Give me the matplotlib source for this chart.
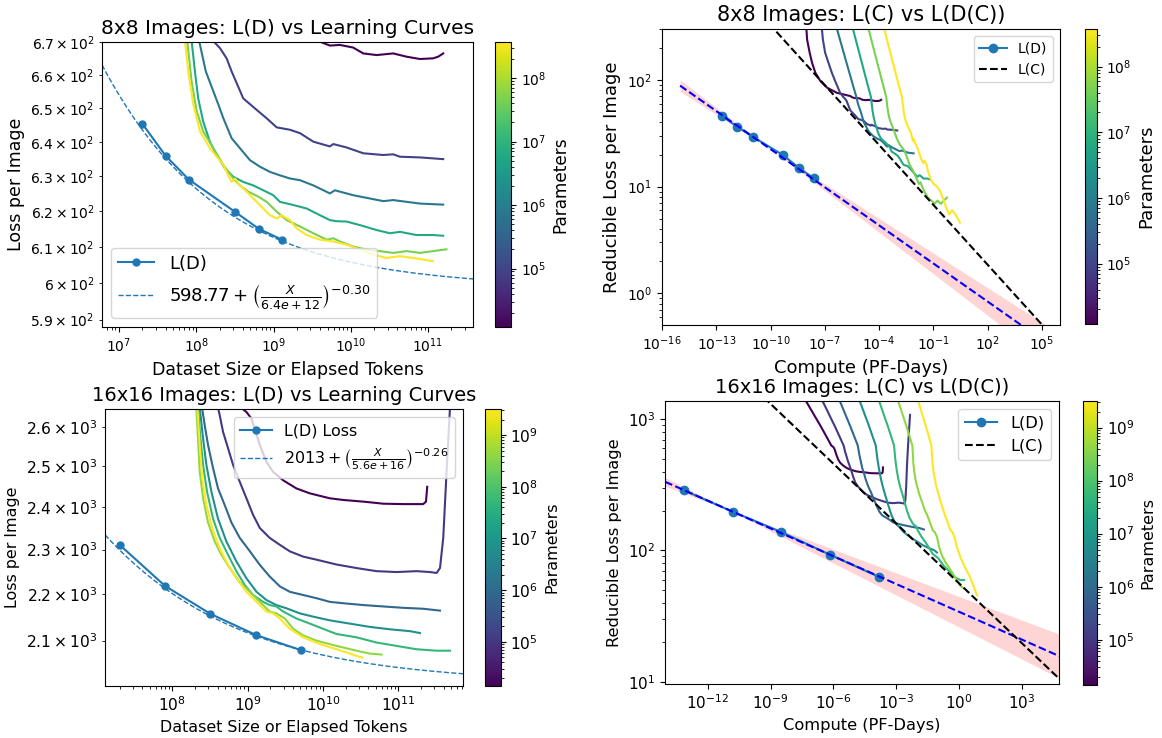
import numpy as np
import matplotlib
matplotlib.use("Agg")
import matplotlib.pyplot as plt
from matplotlib.colors import LogNorm
from matplotlib.cm import ScalarMappable
from matplotlib.ticker import NullLocator

PF_DAY = 8.64e19          # FLOP in one petaflop-day
FLOP_PER_PARAM_TOKEN = 6  # forward + backward

# model sizes of the learning curves
params_8 = [1.2e4, 9.3e4, 7.4e5, 5.9e6, 4.7e7, 3.7e8]
params_16 = [1.4e4, 1.1e5, 8.5e5, 6.6e6, 5.2e7, 4.1e8, 3.2e9]

# 8x8 learning curves (elapsed tokens, loss per image)
tok8_1 = [1.15e7, 1.26e7, 1.75e7, 2.37e7, 3.61e7, 6.82e7, 1.60e8, 5.71e8, 3.10e9, 3.79e9, 5.37e9,
          7.22e9, 1.07e10, 1.45e10, 2.16e10, 3.54e10, 5.27e10, 7.84e10, 1.16e11, 1.35e11, 1.57e11]
loss8_1 = [904, 841, 781, 746, 718, 699, 686, 677, 672, 670.3, 668.9,
           669.1, 668.3, 666.5, 666.0, 666.5, 665.5, 664.8, 665.0, 665.5, 666.5]
tok8_2 = [1.07e7, 1.21e7, 1.62e7, 2.47e7, 3.80e7, 5.79e7, 1.09e8, 1.66e8, 2.03e8, 2.47e8, 2.87e8,
          4.06e8, 6.04e8, 8.14e8, 1.10e9, 1.63e9, 2.20e9, 3.27e9, 5.37e9, 5.92e9, 8.83e9, 1.45e10,
          2.63e10, 3.54e10, 4.32e10, 7.84e10, 1.57e11]
loss8_2 = [904, 841, 781, 746, 718, 699, 677, 670.3, 668.1, 665.0, 661.0,
           652.9, 649.5, 647.0, 644.3, 643.6, 642.6, 640.1, 638.7, 639.4, 638.4, 636.7,
           636.2, 636.4, 635.7, 635.5, 635.0]
tok8_3 = [9.06e6, 1.33e7, 2.16e7, 3.10e7, 4.45e7, 6.00e7, 8.71e7, 1.09e8, 1.33e8, 1.93e8, 2.24e8,
          2.87e8, 3.67e8, 4.95e8, 6.67e8, 8.98e8, 1.21e9, 1.63e9, 2.20e9, 3.27e9, 5.37e9, 6.22e9,
          1.07e10, 2.63e10, 3.54e10, 7.84e10, 1.57e11]
loss8_3 = [904, 841, 781, 746, 718, 699, 680, 670.3, 661.0, 651.1, 647.0,
           641.1, 638.2, 634.7, 632.8, 631.3, 630.3, 629.4, 628.9, 627.4, 625.1, 626.0,
           624.6, 622.9, 623.2, 622.2, 621.9]
tok8_4 = [8.71e6, 1.24e7, 1.95e7, 2.72e7, 3.80e7, 5.01e7, 7.08e7, 8.71e7, 9.61e7, 1.06e8, 1.23e8,
          1.50e8, 1.84e8, 2.35e8, 3.01e8, 4.06e8, 5.46e8, 7.36e8, 9.91e8, 1.21e9, 1.80e9, 2.68e9,
          3.98e9, 5.37e9, 6.55e9, 8.83e9, 1.31e10, 2.16e10, 3.21e10, 4.32e10, 7.10e10, 1.16e11, 1.57e11]
loss8_4 = [904, 841, 781, 746, 718, 699, 680, 670.3, 661.0, 652.9, 646.0,
           640.1, 636.2, 632.3, 629.9, 628.4, 627.4, 626.0, 624.6, 622.7, 621.8, 620.8,
           618.9, 617.5, 617.2, 617.1, 616.1, 614.7, 613.8, 614.2, 613.3, 613.3, 613.1]
tok8_5 = [7.98e6, 1.13e7, 1.76e7, 2.44e7, 3.40e7, 4.45e7, 6.25e7, 7.65e7, 8.71e7, 1.01e8, 1.23e8,
          1.66e8, 2.24e8, 3.01e8, 3.67e8, 4.71e8, 6.34e8, 8.14e8, 1.10e9, 1.48e9, 2.20e9, 3.27e9,
          4.86e9, 5.92e9, 7.22e9, 1.07e10, 1.60e10, 2.38e10, 3.54e10, 5.27e10, 7.84e10, 1.16e11, 1.73e11]
loss8_5 = [904, 841, 781, 746, 718, 699, 680, 670.3, 657.9, 649.2, 643.1,
           638.2, 633.3, 629.4, 627.4, 625.6, 624.2, 622.7, 619.9, 617.5, 615.7, 613.8,
           612.0, 612.4, 611.5, 610.1, 609.2, 608.8, 608.3, 608.8, 608.3, 608.8, 609.3]
tok8_6 = [7.41e6, 1.05e7, 1.64e7, 2.28e7, 3.16e7, 4.15e7, 5.82e7, 7.14e7, 7.89e7, 9.15e7, 1.12e8,
          1.50e8, 2.24e8, 2.59e8, 2.87e8, 3.17e8, 3.67e8, 4.49e8, 5.46e8, 7.36e8, 8.98e8, 1.10e9,
          1.27e9, 1.63e9, 1.99e9, 2.68e9, 3.98e9, 5.92e9, 8.83e9, 1.31e10, 1.95e10, 2.90e10,
          4.32e10, 6.41e10, 1.16e11]
loss8_6 = [904, 841, 781, 746, 718, 699, 680, 670.3, 661.0, 651.1, 643.1,
           638.2, 633.3, 630.3, 628.4, 629.4, 627.4, 625.6, 623.7, 620.8, 618.9, 618.0,
           618.9, 617.5, 615.2, 613.3, 612.0, 611.5, 610.6, 609.2, 607.8, 606.9,
           607.4, 606.9, 606.0]

# 16x16 learning curves (elapsed tokens, loss per image)
tok16_1 = [5.01e7, 1.23e8, 2.61e8, 4.98e8, 8.24e8, 9.62e8, 1.12e9, 1.24e9, 1.45e9, 1.77e9, 2.17e9,
           2.95e9, 4.43e9, 6.68e9, 1.23e10, 1.85e10, 3.41e10, 6.29e10, 1.16e11, 2.13e11, 2.32e11, 2.41e11]
loss16_1 = [3400, 3100, 2900, 2750, 2650, 2639, 2622, 2596, 2553, 2511, 2486,
            2465, 2445, 2433, 2421, 2417, 2413, 2408, 2407, 2407, 2413, 2449]
tok16_2 = [3.97e7, 8.36e7, 1.56e8, 2.67e8, 4.04e8, 4.26e8, 4.71e8, 5.49e8, 6.40e8, 7.85e8, 9.62e8,
           1.18e9, 1.45e9, 1.96e9, 2.67e9, 3.62e9, 5.44e9, 8.17e9, 1.51e10, 2.78e10, 5.12e10, 9.44e10,
           1.74e11, 2.62e11, 3.21e11, 3.56e11, 3.93e11, 4.35e11, 4.83e11, 6.0e11]
loss16_2 = [3400, 3100, 2900, 2750, 2650, 2630, 2587, 2545, 2503, 2461, 2421,
            2381, 2350, 2327, 2311, 2296, 2284, 2277, 2266, 2258, 2251, 2249,
            2251, 2249, 2247, 2258, 2327, 2486, 2650, 3100]
tok16_3 = [3.44e7, 6.47e7, 1.10e8, 1.74e8, 2.48e8, 2.69e8, 2.98e8, 3.47e8, 4.04e8, 4.97e8, 6.08e8,
           7.85e8, 1.07e9, 1.45e9, 1.96e9, 2.67e9, 3.62e9, 5.44e9, 8.17e9, 1.23e10, 1.85e10, 3.41e10,
           6.29e10, 1.16e11, 2.13e11, 3.56e11]
loss16_3 = [3400, 3100, 2900, 2750, 2650, 2604, 2553, 2495, 2445, 2404, 2363,
            2327, 2296, 2265, 2239, 2217, 2205, 2198, 2191, 2183, 2180, 2176,
            2173, 2170, 2168, 2164]
tok16_4 = [3.96e7, 6.97e7, 1.12e8, 1.68e8, 2.31e8, 2.56e8, 2.83e8, 3.30e8, 4.04e8, 5.21e8, 7.08e8,
           9.62e8, 1.31e9, 1.77e9, 2.40e9, 3.27e9, 4.92e9, 7.39e9, 1.23e10, 2.27e10, 4.19e10, 7.71e10,
           1.42e11, 1.93e11]
loss16_4 = [3400, 3100, 2900, 2750, 2650, 2570, 2503, 2437, 2372, 2319, 2273,
            2235, 2205, 2187, 2176, 2169, 2158, 2151, 2143, 2136, 2129, 2124,
            2120, 2116]
tok16_5 = [4.24e7, 7.16e7, 1.12e8, 1.63e8, 2.19e8, 2.36e8, 2.56e8, 2.89e8, 3.47e8, 4.26e8, 5.49e8,
           7.08e8, 9.14e8, 1.18e9, 1.60e9, 1.96e9, 2.40e9, 2.95e9, 4.43e9, 6.68e9, 1.00e10, 1.51e10,
           2.78e10, 5.12e10, 9.44e10, 1.74e11, 3.21e11, 4.83e11]
loss16_5 = [3400, 3100, 2900, 2750, 2650, 2570, 2503, 2437, 2372, 2327, 2288,
            2251, 2220, 2198, 2183, 2176, 2173, 2162, 2147, 2136, 2125, 2114,
            2107, 2096, 2089, 2082, 2079, 2079]
tok16_6 = [4.37e7, 7.19e7, 1.10e8, 1.57e8, 2.08e8, 2.19e8, 2.31e8, 2.56e8, 2.98e8, 3.65e8, 4.48e8,
           5.78e8, 7.85e8, 1.07e9, 1.45e9, 1.96e9, 2.40e9, 3.11e9, 4.01e9, 5.44e9, 8.17e9, 1.51e10,
           2.78e10, 4.19e10, 5.97e10]
loss16_6 = [3400, 3100, 2900, 2750, 2650, 2570, 2486, 2421, 2363, 2319, 2288,
            2258, 2226, 2205, 2183, 2162, 2158, 2147, 2125, 2111, 2100, 2089,
            2079, 2073, 2071]
tok16_7 = [5.04e7, 8.02e7, 1.19e8, 1.66e8, 2.15e8, 2.31e8, 2.50e8, 2.83e8, 3.47e8, 4.26e8, 5.49e8,
           7.08e8, 9.62e8, 1.31e9, 1.77e9, 2.17e9, 2.67e9, 3.62e9, 5.44e9, 9.07e9, 1.51e10, 2.27e10,
           3.08e10, 3.33e10]
loss16_7 = [3400, 3100, 2900, 2750, 2650, 2553, 2469, 2404, 2343, 2303, 2265,
            2235, 2205, 2183, 2162, 2158, 2147, 2125, 2107, 2093, 2082, 2073,
            2066, 2065]

# irreducible loss removed from the learning curves on the compute plots
curve_floor_8 = 601.4
curve_floor_16 = 2019.5

# L(D) measurements
ld8_tokens = [2e7, 4e7, 8e7, 3.2e8, 6.4e8, 1.28e9]
ld8_loss = [645.4, 636.0, 629.1, 619.8, 615.1, 612.0]
ld8_compute = [2.06e-13, 1.39e-12, 1.02e-11, 4.82e-10, 3.54e-9, 2.38e-8]
ld8_reducible = [46.0, 36.5, 29.4, 19.8, 15.1, 12.0]
ld16_tokens = [2e7, 8e7, 3.2e8, 1.28e9, 5.12e9]
ld16_loss = [2311, 2218, 2157, 2112, 2080]
ld16_compute = [7.4e-14, 1.62e-11, 3.30e-9, 6.71e-7, 1.48e-4]
ld16_reducible = [287, 197, 138, 93, 63]

# L(D) fits: L_inf + (X / X0)^-alpha
fit8 = (598.77, 6.4e12, 0.30)
fit16 = (2013, 5.6e16, 0.26)
# L(D(C)) power laws: coef * C^-exp, band spread per decade around pivot
ldc8 = (1.45, 0.119, 1e-10, 0.0108)
ldc16 = (34.1, 0.0706, 1.26e-11, 0.0107)
# L(C) frontier: coef * C^-exp
lc8 = (4.39, 0.187)
lc16 = (56.2, 0.152)

cmap = plt.get_cmap('viridis')


def loss_panel(ax, cax, toks, losses, params, ld_tok, ld_loss, ld_label, fit,
               xlim, ylim, title, fs):
    norm = LogNorm(min(params), max(params))
    for t, l, n in zip(toks, losses, params):
        ax.plot(t, l, color=cmap(norm(n)), lw=1.5)
    ax.plot(ld_tok, ld_loss, 'o-', color='tab:blue', ms=5, lw=1.5, label=ld_label)
    l_inf, x0, alpha = fit
    x = np.logspace(np.log10(xlim[0]), np.log10(xlim[1]), 300)
    label = rf'${l_inf:g} + \left(\frac{{X}}{{{x0:.1e}}}\right)^{{-{alpha:.2f}}}$'
    ax.plot(x, l_inf + (x / x0) ** (-alpha), '--', color='tab:blue', lw=1, label=label)
    ax.set_xscale('log')
    ax.set_yscale('log')
    ax.set_xlim(*xlim)
    ax.set_ylim(*ylim)
    ax.set_title(title, fontsize=fs['title'])
    ax.set_xlabel('Dataset Size or Elapsed Tokens', fontsize=fs['label'])
    ax.set_ylabel('Loss per Image', fontsize=fs['label'])
    ax.tick_params(which='both', labelsize=fs['tick'])
    ax.legend(loc=fs['loc'], fontsize=fs['legend'])
    cb = fig.colorbar(ScalarMappable(norm=norm, cmap=cmap), cax=cax)
    cb.set_label('Parameters', fontsize=fs['cbar'])
    cb.ax.tick_params(which='both', labelsize=fs['tick'])


def compute_panel(ax, cax, toks, losses, params, floor, ld_c, ld_r, ldc, lc,
                  xlim, ylim, xticks, title, fs):
    norm = LogNorm(min(params), max(params))
    c = np.logspace(-15, 6, 300)
    coef, expo, pivot, spread = ldc
    r_fit = coef * c ** (-expo)
    widen = 10 ** (spread * np.abs(np.log10(c / pivot)))
    ax.fill_between(c, r_fit / widen, r_fit * widen, color='red', alpha=0.17, lw=0)
    for t, l, n in zip(toks, losses, params):
        comp = FLOP_PER_PARAM_TOKEN * n * np.array(t) / PF_DAY
        ax.plot(comp, np.array(l) - floor, color=cmap(norm(n)), lw=1.5)
    ax.plot(ld_c, ld_r, 'o-', color='tab:blue', ms=6, lw=1.5, label='L(D)')
    ax.plot(c, r_fit, 'b--', lw=1.5)
    cc = np.logspace(-12, 5, 200)
    ax.plot(cc, lc[0] * cc ** (-lc[1]), 'k--', lw=1.5, label='L(C)')
    ax.set_xscale('log')
    ax.set_yscale('log')
    ax.set_xlim(*xlim)
    ax.set_ylim(*ylim)
    ax.set_xticks(xticks)
    ax.xaxis.set_minor_locator(NullLocator())
    ax.set_title(title, fontsize=fs['title'])
    ax.set_xlabel('Compute (PF-Days)', fontsize=fs['label'])
    ax.set_ylabel('Reducible Loss per Image', fontsize=fs['label'])
    ax.tick_params(which='both', labelsize=fs['tick'])
    ax.legend(loc='upper right', fontsize=fs['legend'])
    cb = fig.colorbar(ScalarMappable(norm=norm, cmap=cmap), cax=cax)
    cb.set_label('Parameters', fontsize=fs['cbar'])
    cb.ax.tick_params(which='both', labelsize=fs['tick'])


fig = plt.figure(figsize=(11.62, 7.38), dpi=100)
ax_tl = fig.add_axes([0.0878, 0.5569, 0.3193, 0.3862])
cax_tl = fig.add_axes([0.4260, 0.5569, 0.0138, 0.3862])
ax_tr = fig.add_axes([0.5697, 0.5596, 0.3425, 0.4011])
cax_tr = fig.add_axes([0.9337, 0.5610, 0.0101, 0.3993])
ax_bl = fig.add_axes([0.0904, 0.0705, 0.3081, 0.3753])
cax_bl = fig.add_axes([0.4174, 0.0705, 0.0135, 0.3753])
ax_br = fig.add_axes([0.5723, 0.0732, 0.3391, 0.3835])
cax_br = fig.add_axes([0.9318, 0.0718, 0.0126, 0.3852])

toks8 = [tok8_1, tok8_2, tok8_3, tok8_4, tok8_5, tok8_6]
losses8 = [loss8_1, loss8_2, loss8_3, loss8_4, loss8_5, loss8_6]
toks16 = [tok16_1, tok16_2, tok16_3, tok16_4, tok16_5, tok16_6, tok16_7]
losses16 = [loss16_1, loss16_2, loss16_3, loss16_4, loss16_5, loss16_6, loss16_7]

loss_panel(ax_tl, cax_tl, toks8, losses8, params_8, ld8_tokens, ld8_loss, 'L(D)', fit8,
           (6.03e6, 3.82e11), (588, 670), '8x8 Images: L(D) vs Learning Curves',
           dict(title=14.5, label=12.5, tick=10, legend=13, cbar=12.2, loc='lower left'))
compute_panel(ax_tr, cax_tr, toks8, losses8, params_8, curve_floor_8, ld8_compute, ld8_reducible,
              ldc8, lc8, (1e-16, 1e6), (0.505, 300), 10.0 ** np.arange(-16, 6, 3),
              '8x8 Images: L(C) vs L(D(C))',
              dict(title=15, label=13, tick=10, legend=10, cbar=13))
loss_panel(ax_bl, cax_bl, toks16, losses16, params_16, ld16_tokens, ld16_loss, 'L(D) Loss', fit16,
           (1.28e7, 7.2e11), (2007, 2647), '16x16 Images: L(D) vs Learning Curves',
           dict(title=14, label=11.4, tick=11.2, legend=11.4, cbar=11.4, loc='upper right'))
compute_panel(ax_br, cax_br, toks16, losses16, params_16, curve_floor_16, ld16_compute,
              ld16_reducible, ldc16, lc16, (9.1e-15, 6.0e4), (9.6, 1380),
              10.0 ** np.arange(-12, 4, 3), '16x16 Images: L(C) vs L(D(C))',
              dict(title=14, label=11.7, tick=11, legend=11.7, cbar=11.5))

fig.savefig('out.png', dpi=100)
